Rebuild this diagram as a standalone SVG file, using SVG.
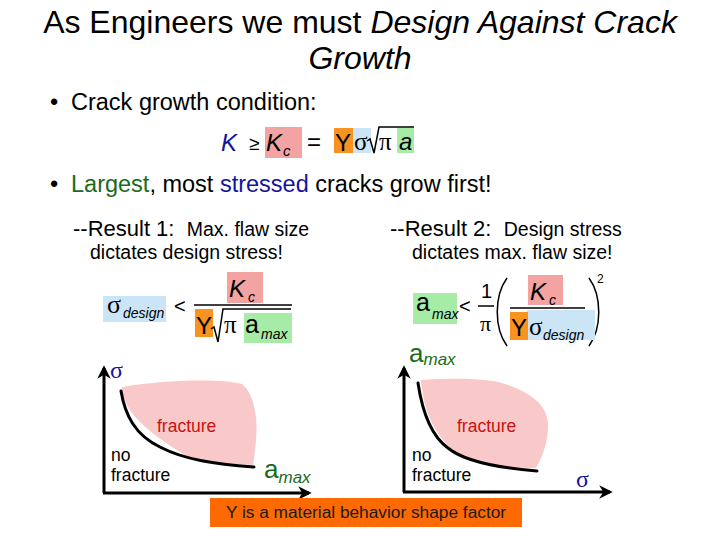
<svg xmlns="http://www.w3.org/2000/svg" width="720" height="540" viewBox="0 0 720 540">
<defs>
<style>
text{font-family:"Liberation Sans",Arial,sans-serif;fill:#000}
.title{font-size:32px}
.it{font-style:italic}
.b{font-size:23.5px}
.r1{font-size:22px}
.r2{font-size:19.5px}
.pre{white-space:pre}
.m{font-size:24px}
.sub{font-size:14px;font-style:italic}
.sym{font-family:"Liberation Serif","DejaVu Serif",serif}
.pink{fill:#f4a3a3}
.orange{fill:#f7931e}
.lblue{fill:#cce5f6}
.green{fill:#a6eca6}
.ln{stroke:#000;stroke-width:1.5;fill:none}
.ax{stroke:#000;stroke-width:3;fill:none}
.crv{stroke:#000;stroke-width:3;fill:none;stroke-linecap:round}
.blob{fill:#f9c9c9}
.red{fill:#cc1111;font-size:17.5px}
.lab{font-size:17.5px}
.navy{fill:#14149a}
.dgreen{fill:#1a6b1a}
</style>
<marker id="arr" viewBox="0 0 10 10" refX="8" refY="5" markerWidth="4.5" markerHeight="4.5" orient="auto">
<path d="M0,0 L10,5 L0,10 L3,5 Z" fill="#000"/>
</marker>
</defs>
<rect width="720" height="540" fill="#fff"/>

<g id="title">
<text class="title" x="360" y="33" text-anchor="middle">As Engineers we must <tspan class="it">Design Against Crack</tspan></text>
<text class="title it" x="360" y="69" text-anchor="middle">Growth</text>
</g>

<g id="bullet1">
<text class="b" x="50" y="110">•</text>
<text class="b" x="71" y="110">Crack growth condition:</text>
</g>

<g id="equation">
<rect class="pink" x="265" y="127" width="37" height="31"/>
<rect class="orange" x="334" y="128" width="19" height="25"/>
<rect class="lblue" x="353" y="128" width="18" height="25"/>
<rect class="green" x="397" y="128" width="17" height="25"/>
<text class="m it navy" x="221" y="151">K</text>
<text x="249" y="150" style="font-size:19px">≥</text>
<text class="m it" x="266" y="151">K</text>
<text class="sub" x="283" y="156" style="font-size:15px">c</text>
<text class="m" x="307" y="150">=</text>
<text class="m" x="335" y="151">Y</text>
<text class="sym" x="354" y="150" style="font-size:25px">σ</text>
<path class="ln" d="M367,141 L370,139 L374,153 L379,127 L414,127"/>
<text class="sym" x="379" y="150" style="font-size:25px">π</text>
<text class="m it" x="399" y="150">a</text>
</g>

<g id="bullet2">
<text class="b" x="50" y="192">•</text>
<text class="b" x="71" y="192"><tspan class="dgreen">Largest</tspan>, most <tspan class="navy">stressed</tspan> cracks grow first!</text>
</g>

<g id="result1">
<text class="pre" x="73" y="236"><tspan class="r1">--Result 1:  </tspan><tspan class="r2">Max. flaw size</tspan></text>
<text class="r2" x="90" y="259">dictates design stress!</text>
</g>

<g id="result2">
<text class="pre" x="390" y="236"><tspan class="r1">--Result 2:  </tspan><tspan class="r2">Design stress</tspan></text>
<text class="r2" x="412" y="259">dictates max. flaw size!</text>
</g>

<g id="formula1">
<rect class="lblue" x="103" y="296" width="63" height="26"/>
<text class="sym" x="107" y="313" style="font-size:26px">σ</text>
<text class="sub" x="123" y="318">design</text>
<text x="174" y="313" style="font-size:20px">&lt;</text>
<rect class="pink" x="227" y="272" width="36" height="31"/>
<text class="m it" x="229" y="297">K</text>
<text class="sub" x="248" y="302">c</text>
<line class="ln" x1="194" y1="305" x2="292" y2="305"/>
<rect class="orange" x="195" y="309" width="18" height="28"/>
<text class="m" x="196" y="334">Y</text>
<rect class="green" x="244" y="313" width="48" height="30"/>
<path class="ln" d="M211,329 L214,327 L218,342 L223,309 L291,309"/>
<text class="sym" x="224" y="333" style="font-size:25px">π</text>
<text class="m" x="245" y="333" style="font-size:25px">a</text>
<text class="sub" x="261" y="339">max</text>
</g>

<g id="formula2">
<rect class="green" x="413" y="293" width="44" height="31"/>
<text class="m" x="416" y="311" style="font-size:25px">a</text>
<text class="sub" x="432" y="319">max</text>
<text x="459" y="313" style="font-size:20px">&lt;</text>
<text x="481" y="298" style="font-size:20px">1</text>
<line class="ln" x1="478" y1="306" x2="494" y2="306"/>
<text class="sym" x="480" y="331" style="font-size:22px">π</text>
<path class="ln" d="M507,278 C494,296 494,328 507,346"/>
<path class="ln" d="M589,278 C602,296 602,328 589,346"/>
<rect class="pink" x="528" y="275" width="35" height="30"/>
<text class="m it" x="530" y="300">K</text>
<text class="sub" x="549" y="305">c</text>
<line class="ln" x1="510" y1="308" x2="585" y2="308"/>
<rect class="lblue" x="527" y="310" width="68" height="30"/>
<rect class="orange" x="510" y="312" width="18" height="28"/>
<text class="m" x="511" y="336">Y</text>
<text class="sym" x="529" y="335" style="font-size:25px">σ</text>
<text class="sub" x="543" y="340">design</text>
<text x="597" y="283" style="font-size:12px">2</text>
</g>

<g id="graph1">
<path class="blob" d="M122,387 C160,380 220,378 242,384 C255,395 258,420 256,440 C255,452 254,460 253,465 C230,464 200,462 185,455 C160,440 140,425 130,410 C124,400 121,392 122,387 Z"/>
<path class="crv" d="M121,391 C125,415 135,435 160,447 C185,460 215,464 254,467"/>
<text class="red" x="157" y="432">fracture</text>
<text class="lab" x="111" y="461">no</text>
<text class="lab" x="111" y="481">fracture</text>
<text class="navy sym" x="110" y="378" style="font-size:24px">σ</text>
<text class="dgreen" x="264" y="478" style="font-size:26px">a<tspan class="it" style="font-size:17px" dy="5">max</tspan></text>
</g>

<g id="graph2">
<path class="blob" d="M421,380 C450,378 490,378 505,384 C530,392 548,405 548,425 C548,445 540,462 536,468 C510,468 480,466 460,455 C440,442 428,420 424,400 C422,390 421,384 421,380 Z"/>
<path class="crv" d="M418,383 C422,410 430,435 448,448 C465,462 500,468 537,471"/>
<text class="red" x="457" y="432">fracture</text>
<text class="lab" x="412" y="461">no</text>
<text class="lab" x="412" y="481">fracture</text>
<text class="dgreen" x="409" y="362" style="font-size:26px">a<tspan class="it" style="font-size:17px" dy="3">max</tspan></text>
<text class="navy sym" x="576" y="487" style="font-size:24px">σ</text>
</g>

<g id="connectors">
<line class="ax" x1="104" y1="493" x2="104" y2="368" marker-end="url(#arr)"/>
<line class="ax" x1="103" y1="493" x2="309" y2="493" marker-end="url(#arr)"/>
<line class="ax" x1="404" y1="492" x2="404" y2="368" marker-end="url(#arr)"/>
<line class="ax" x1="403" y1="492" x2="610" y2="492" marker-end="url(#arr)"/>
</g>

<g id="note">
<rect x="210" y="498" width="312" height="29" fill="#fd6a02"/>
<text x="366" y="518" text-anchor="middle" style="font-size:17.3px;fill:#1a1a1a">Y is a material behavior shape factor</text>
</g>
</svg>
